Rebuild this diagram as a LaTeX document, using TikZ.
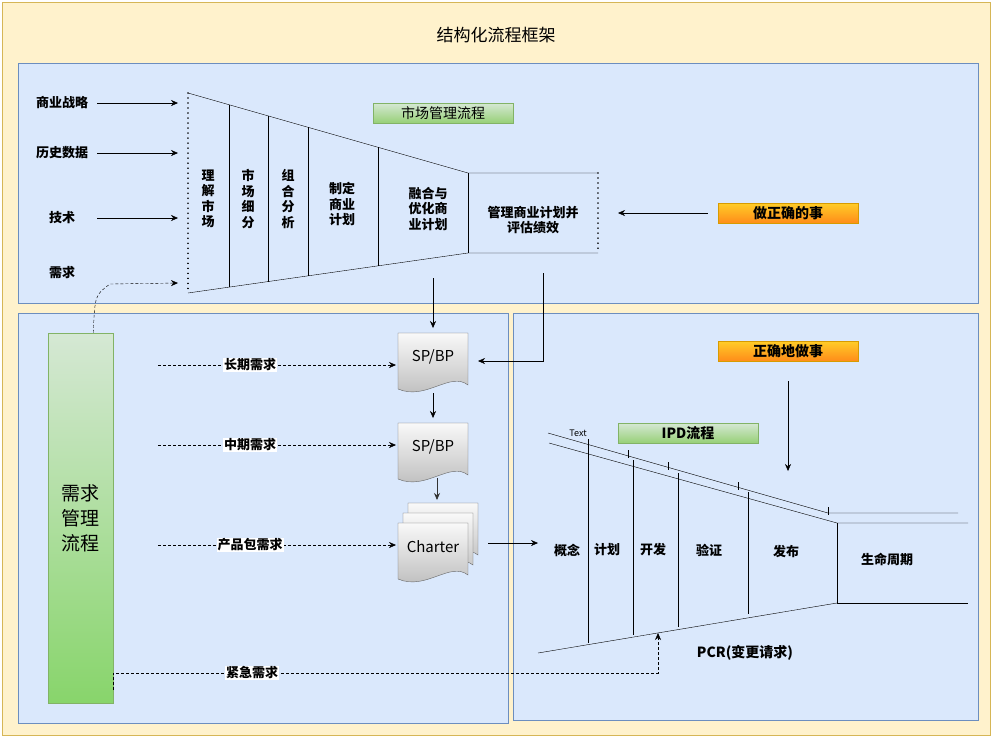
\documentclass[tikz,border=0pt]{standalone}
\usepackage{fontspec}
\setmainfont{Noto Sans CJK SC}
\usetikzlibrary{arrows.meta,positioning,calc}
\definecolor{panelfill}{HTML}{DAE8FC}
\definecolor{panelline}{HTML}{6C8EBF}
\definecolor{outerfill}{HTML}{FFF2CC}
\definecolor{outerline}{HTML}{D6B656}
\definecolor{orangefill}{HTML}{FFCD28}
\definecolor{orangeline}{HTML}{D79B00}
\definecolor{greentop}{HTML}{D5E8D4}
\definecolor{greenbot}{HTML}{97D077}
\definecolor{greenline}{HTML}{82B366}
\tikzset{
  panel/.style={fill=panelfill,draw=panelline},
  lbl/.style={font=\fontsize{13}{15.5}\selectfont\bfseries,align=center,inner sep=1pt},
  tag/.style={draw=greenline,top color=greentop,bottom color=greenbot,minimum width=140pt,minimum height=20pt,inner sep=0pt,font=\fontsize{14}{16}\selectfont},
  otag/.style={tag,draw=orangeline,top color=orangefill,bottom color=orange!90,font=\fontsize{14}{16}\selectfont\bfseries},
  arr/.style={-{Stealth[length=7pt,width=6pt]},thin},
  darr/.style={arr,densely dashed},
  docfill/.style={draw=gray!80!black,top color=gray!5,bottom color=gray!55},
}
% document symbol, top-left corner at (#2,#3)
\newcommand\docshape[4]{%
  \begin{scope}[shift={(#2,#3)}]
    \path[docfill] (0,0) -- (70,0) -- (70,52) .. controls (52,38) and (28,68) .. (0,56) -- cycle;
    \node[font=\fontsize{15}{17}\selectfont] (#1) at (35,24) {#4};
  \end{scope}}
\begin{document}
\begin{tikzpicture}[x=1pt,y=-1pt]
  \useasboundingbox (0,0) rectangle (992,737);
  % panels
  \filldraw[fill=outerfill,draw=outerline] (2,2) rectangle (990,735);
  \node[font=\fontsize{17}{19}\selectfont] (title) at (496,35) {结构化流程框架};
  \path[panel] (18,63) rectangle (978,303);
  \path[panel] (18,313) rectangle (508,723);
  \path[panel] (513,313) rectangle (978,720);

  % market funnel
  \draw (188,93) -- (468,173) -- (598,173);
  \draw (188,293) -- (468,253) -- (598,253);
  \draw (468,173) -- (468,253);
  \draw[line width=1.6pt,dash pattern=on 0.01pt off 5pt,line cap=round] (188,93) -- (188,293);
  \draw[line width=1.6pt,dash pattern=on 0.01pt off 5pt,line cap=round] (598,173) -- (598,253);
  \foreach \x/\t/\b in {229/104.7/287.1,268/115.9/281.6,308/127.3/275.9,378/147.3/265.9}
    \draw (\x,\t) -- (\x,\b);
  \node[lbl] (m1) at (208,199) {理\\解\\市\\场};
  \node[lbl] (m2) at (248,199) {市\\场\\细\\分};
  \node[lbl] (m3) at (288,199) {组\\合\\分\\析};
  \node[lbl] (m4) at (342,204) {制定\\商业\\计划};
  \node[lbl] (m5) at (428,209) {融合与\\优化商\\业计划};
  \node[lbl] (m6) at (533,220) {管理商业计划并\\评估绩效};
  \node[tag] (mm) at (443,113) {市场管理流程};

  % inputs
  \foreach \n/\y/\t in {i1/103/商业战略,i2/153/历史数据,i3/218/技术,i4/273/需求}
    \node[lbl] (\n) at (62,\y) {\t};
  \foreach \n/\y in {i1/103,i2/153,i3/218}
    \draw[arr] (\n.east -| 97,\y) -- (178,\y);
  \node[otag] (right) at (788,213) {做正确的事};
  \coordinate (rin) at (618,213);
  \draw[arr] (right.west) ++(-10,0) -- (rin);

  % demand management
  \node[draw=greenline,top color=greentop,bottom color=greenbot!90!green,
        minimum width=65pt,minimum height=370pt,font=\fontsize{19}{25}\selectfont,align=center] (dm) at (80.5,518) {需求\\管理\\流程};
  \draw[darr] (dm.north east) ++(-20,0) .. controls (95,295) .. (110,284) -- (178,283);

  % documents
  \docshape{d1}{398}{333}{SP/BP}
  \docshape{d2}{398}{423}{SP/BP}
  \docshape{d5}{408}{503}{}
  \docshape{d4}{403}{513}{}
  \docshape{d3}{398}{523}{Charter}
  \draw[arr] (433,278) -- (d1.north |- 0,328);
  \draw[arr] (543,273) -- (543,361) -- (478,361);
  \draw[arr] (433,393) -- (433,418);
  \draw[arr,thick,gray!40!black] (437,478) -- (437,500);
  \draw[arr] (488,543) -- (538,543);

  % demand arrows
  \foreach \n/\y/\t in {q1/365/长期需求,q2/445/中期需求,q3/545/产品包需求}{
    \draw[darr] (158,\y) -- (396,\y);
    \node[lbl,fill=white] (\n) at (250,\y) {\t};}
  \draw[darr] (113,690) -- (113,673) -- (658,673) -- (658,633);
  \node[lbl,fill=white] (q4) at (252,673) {紧急需求};

  % IPD funnel
  \node[otag] (how) at (788,351) {正确地做事};
  \draw[arr] (788,381) -- (788,471);
  \node[tag] (ipd) at (688,433) {\bfseries IPD流程};
  \node[font=\fontsize{9}{10}\selectfont] (txt) at (578,433) {Text};
  \draw (548,433) -- (828,513) -- (958,513);
  \draw (549,443) -- (837,523) -- (968,523);
  \draw (837,523) -- (837,603) -- (968,603);
  \draw (538,653) -- (837,603);
  \foreach \x/\t/\b in {588/445/643,633/460/635,678/473/627,748/492/614}
    \draw (\x,\t) -- (\x,\b);
  \foreach \x/\y in {588/447,628/458,668/470,738/490,828/515}
    \draw (\x,\y-8) -- (\x,\y);
  \foreach \n/\x/\y/\t in {p1/567/550/概念,p2/607/550/计划,p3/653/550/开发,p4/709/550/验证,p5/786/551/发布,p6/887/559/生命周期}
    \node[lbl] (\n) at (\x,\y) {\t};
  \node[lbl,font=\fontsize{14}{16}\selectfont\bfseries] (pcr) at (745,653) {PCR(变更请求)};
\end{tikzpicture}
\end{document}
